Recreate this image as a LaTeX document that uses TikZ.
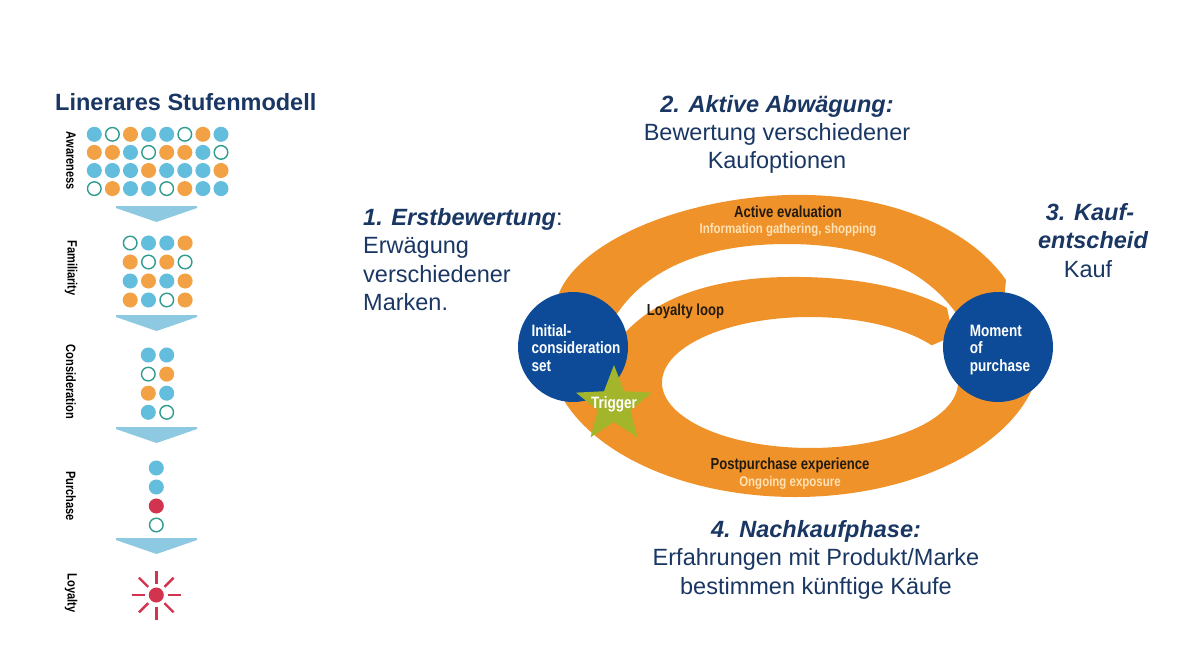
\documentclass[tikz,border=0pt]{standalone}
\usepackage{fontspec}
\setmainfont{Liberation Sans}
\newfontfamily\condf[FakeStretch=0.82]{Liberation Sans}
\usetikzlibrary{shapes.geometric}
\definecolor{navy}{HTML}{1A3764}
\definecolor{orng}{HTML}{F0922A}
\definecolor{dblue}{HTML}{0D4B98}
\definecolor{stargreen}{HTML}{A2B52B}
\definecolor{dotblue}{HTML}{62BEDC}
\definecolor{dotorange}{HTML}{F2A144}
\definecolor{ringteal}{HTML}{2E9C8E}
\definecolor{dred}{HTML}{D2334F}
\definecolor{arrowblue}{HTML}{8DCAE2}
\definecolor{cream}{HTML}{FFE2B6}
\definecolor{darktxt}{HTML}{231A10}
\colorlet{fB}{dotblue}\colorlet{dB}{dotblue}
\colorlet{fO}{white}\colorlet{dO}{ringteal}
\colorlet{fR}{dotorange}\colorlet{dR}{dotorange}
\colorlet{fX}{dred}\colorlet{dX}{dred}
\tikzset{
  dot/.style={circle, inner sep=0pt, minimum size=13.6pt, line width=1.4pt},
  chev/.style={fill=arrowblue},
  stagelab/.style={font=\condf\bfseries\fontsize{13.5}{14}\selectfont, text=black, rotate=-90, inner sep=0pt},
  maintxt/.style={font=\fontsize{23.5}{28}\selectfont, text=navy, inner sep=0pt, anchor=base},
  headtxt/.style={maintxt, font=\bfseries\itshape\fontsize{23.5}{28}\selectfont},
  bandtxt/.style={font=\condf\bfseries\fontsize{16}{17}\selectfont, text=darktxt, inner sep=0pt, anchor=base},
  subtxt/.style={font=\condf\bfseries\fontsize{14}{15}\selectfont, text=cream, inner sep=0pt, anchor=base},
  stagecirc/.style={circle, fill=dblue, minimum size=110pt, inner sep=0pt},
  circtxt/.style={font=\condf\bfseries\fontsize{16.5}{17.5}\selectfont, text=white, align=left, inner sep=0pt},
  band/.style={fill=orng},
}
\begin{document}
\begin{tikzpicture}[x=1pt,y=-1pt]
\useasboundingbox (0,0) rectangle (1194,654);
\fill[white] (0,0) rectangle (1194,654);

% ---------- left: linear stage model ----------
\node[maintxt, anchor=base west, font=\bfseries\fontsize{23.5}{28}\selectfont] (title) at (55,110) {Linerares Stufenmodell};

\foreach \row [count=\r from 0] in {{B,O,R,B,B,O,R,B},{R,R,B,O,R,R,B,O},{B,B,B,R,B,B,B,R},{O,R,B,B,O,R,B,B}}
  \foreach \c [count=\i from 0] in \row
    \node[dot, fill=f\c, draw=d\c] (aw-\r-\i) at ({94.3+18.1*\i},{134.3+18.1*\r}) {};
\foreach \row [count=\r from 0] in {{O,B,B,R},{R,O,R,O},{B,R,B,R},{R,B,O,R}}
  \foreach \c [count=\i from 0] in \row
    \node[dot, fill=f\c, draw=d\c] (fa-\r-\i) at ({130.2+18.3*\i},{243+19*\r}) {};
\foreach \row [count=\r from 0] in {{B,B},{O,R},{R,B},{B,O}}
  \foreach \c [count=\i from 0] in \row
    \node[dot, fill=f\c, draw=d\c] (co-\r-\i) at ({148.3+18.4*\i},{355+19.1*\r}) {};
\foreach \c [count=\r from 0] in {B,B,X,O}
  \node[dot, fill=f\c, draw=d\c] (pu-\r) at (156.3,{468+19*\r}) {};
\node[dot, fill=dred, draw=dred] (sun) at (156.3,595) {};
\foreach \a in {0,45,...,315}
  \draw[dred, line width=2.4pt] (sun.center) ++(\a:11.5) -- ++(\a:13);

\fill[chev] (116,206) -- (197,206) -- (197,208) -- (156.5,222) -- (116,208) -- cycle;
\fill[chev] (116,315) -- (197,315) -- (197,317) -- (156.5,331) -- (116,317) -- cycle;
\fill[chev] (116,427) -- (197,427) -- (197,429) -- (156.5,443) -- (116,429) -- cycle;
\fill[chev] (116,538) -- (197,538) -- (197,540) -- (156.5,554) -- (116,540) -- cycle;

\node[stagelab] (l-aw) at (71,161) {Awareness};
\node[stagelab] (l-fa) at (71,268) {Familiarity};
\node[stagelab] (l-co) at (71,382) {Consideration};
\node[stagelab] (l-pu) at (71,496) {Purchase};
\node[stagelab] (l-lo) at (71,593) {Loyalty};

% ---------- right: decision journey ----------
% top band (active evaluation)
\fill[band] (552,320) -- (555,310) .. controls (558,255) and (660,200) .. (787,195)
  .. controls (900,192) and (975,235) .. (1006,280) -- (1003,312) -- (962,322)
  .. controls (930,270) and (870,244) .. (787,244)
  .. controls (700,244) and (640,272) .. (612,322) -- cycle;
% loyalty loop + postpurchase ring
\fill[band] (612,350) .. controls (640,305) and (700,278) .. (787,277)
  .. controls (860,276) and (915,290) .. (947,308) -- (953,336) -- (931.8,345.3)
  arc[start angle=34.6, end angle=360, x radius=148pt, y radius=65.5pt]
  -- (1037.3,375.5)
  arc[start angle=-10, end angle=-170, x radius=246pt, y radius=147pt]
  -- cycle;

\node[stagecirc] (ics) at (573,347) {};
\node[stagecirc] (mop) at (998,347) {};
\node[circtxt] (ics-t) at (576,348) {Initial-\\consideration\\set};
\node[circtxt] (mop-t) at (1000,350) {Moment\\of\\purchase};

\node[star, star points=5, star point ratio=2.35, minimum size=80pt, inner sep=0pt, fill=stargreen] (trig) at (614,405) {};
\node[bandtxt, text=white, font=\condf\bfseries\fontsize{16.5}{17}\selectfont] (trig-t) at (614,408) {Trigger};

\node[bandtxt] (ae) at (788,217) {Active evaluation};
\node[subtxt] (ae-s) at (788,233) {Information gathering, shopping};
\node[bandtxt] (ll) at (685.5,315) {Loyalty loop};
\node[bandtxt] (pp) at (790,469) {Postpurchase experience};
\node[subtxt] (pp-s) at (790,486) {Ongoing exposure};

% ---------- German annotations ----------
\node[headtxt] (t2a) at (777,112) {2. Aktive Abwägung:};
\node[maintxt] (t2b) at (777,140) {Bewertung verschiedener};
\node[maintxt] (t2c) at (777,168) {Kaufoptionen};

\node[maintxt, anchor=base west] (t1a) at (363,225) {\textbf{\textit{1. Erstbewertung}}:};
\node[maintxt, anchor=base west] (t1b) at (363,253) {Erwägung};
\node[maintxt, anchor=base west] (t1c) at (363,282) {verschiedener};
\node[maintxt, anchor=base west] (t1d) at (363,310) {Marken.};

\node[headtxt] (t3a) at (1090,220) {3. Kauf-};
\node[headtxt] (t3b) at (1093,248) {entscheid};
\node[maintxt] (t3c) at (1088,277) {Kauf};

\node[headtxt] (t4a) at (816,537) {4. Nachkaufphase:};
\node[maintxt] (t4b) at (816,565) {Erfahrungen mit Produkt/Marke};
\node[maintxt] (t4c) at (816,594) {bestimmen künftige Käufe};
\end{tikzpicture}
\end{document}
